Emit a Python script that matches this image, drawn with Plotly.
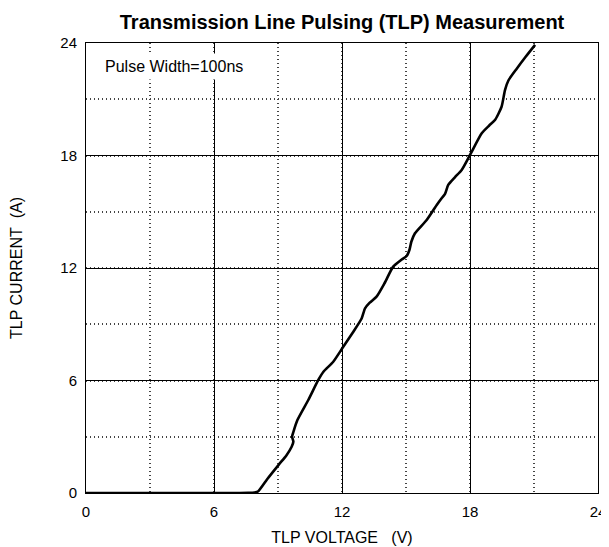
import plotly.graph_objects as go

voltage = [0, 2, 4, 6, 7.0, 7.6, 7.9, 8.06, 8.5, 9.02, 9.4, 9.64, 9.72, 9.66, 9.72, 9.91, 10.42, 10.89,
           11.13, 11.59, 12.06, 12.5, 12.92, 13.08, 13.3, 13.62, 14.0, 14.4, 14.8, 15.03, 15.16, 15.25, 15.42,
           15.97, 16.44, 16.67, 16.83, 16.98, 17.3, 17.61, 18.0, 18.55, 18.9, 19.17, 19.48, 19.64, 19.8, 20.19,
           20.6, 21.05]
current = [0, 0, 0, 0, 0.0, 0.01, 0.03, 0.08, 0.75, 1.49, 2.02, 2.47, 2.74, 3.0, 3.25, 3.89, 4.96, 6.03,
           6.47, 7.0, 7.8, 8.55, 9.31, 9.85, 10.15, 10.47, 11.2, 12.07, 12.45, 12.64, 12.96, 13.4, 13.85,
           14.56, 15.36, 15.72, 15.95, 16.43, 16.85, 17.23, 18.03, 19.19, 19.6, 19.89, 20.6, 21.49, 22.0, 22.63,
           23.25, 23.9]

x_ticks = [0, 6, 12, 18, 24]
y_ticks = [0, 6, 12, 18, 24]

title_text = "Transmission Line Pulsing (TLP) Measurement"
x_title = "TLP VOLTAGE\u00a0\u00a0\u00a0(V)"
y_title = "TLP CURRENT\u00a0\u00a0(A)"
note_text = "Pulse Width=100ns"

FONT = "Liberation Sans, Arial"

fig = go.Figure()
fig.add_trace(go.Scatter(x=voltage, y=current, mode="lines",
                         line=dict(color="black", width=2.6, shape="spline", smoothing=0.6),
                         showlegend=False, hoverinfo="skip"))

axis_common = dict(
    showline=True, linecolor="black", linewidth=1, mirror=True,
    showgrid=True, gridcolor="black", gridwidth=1,
    ticks="", zeroline=False, automargin=False, ticklabelstandoff=5,
    tickfont=dict(family=FONT, size=15, color="black"),
    minor=dict(dtick=3, showgrid=True, gridcolor="#444444", griddash="1px,3px", gridwidth=1.5),
)

# page body has an 8px margin, so the figure is sized/offset to compensate
fig.update_layout(
    width=601, height=539,
    margin=dict(l=78, r=11, t=35, b=54),
    paper_bgcolor="white", plot_bgcolor="white",
    title=dict(text="<b>" + title_text + "</b>", x=0.5, xref="paper", xanchor="center",
               y=0.974, yref="container", yanchor="middle",
               font=dict(family=FONT, size=20, color="black")),
    xaxis=dict(range=[0, 24], tickvals=x_ticks, ticktext=[str(v) for v in x_ticks],
               title=dict(text=x_title, standoff=12, font=dict(family=FONT, size=16, color="black")),
               **axis_common),
    yaxis=dict(range=[0, 24], tickvals=y_ticks, ticktext=[str(v) for v in y_ticks],
               title=dict(text=y_title, standoff=36, font=dict(family=FONT, size=16, color="black")),
               **axis_common),
    annotations=[dict(text=note_text, x=0.028, y=0.947, xref="paper", yref="paper",
                      xanchor="left", yanchor="middle", showarrow=False,
                      bgcolor="white", borderpad=4,
                      font=dict(family=FONT, size=16, color="black"))],
)

fig.write_html("out.html")
